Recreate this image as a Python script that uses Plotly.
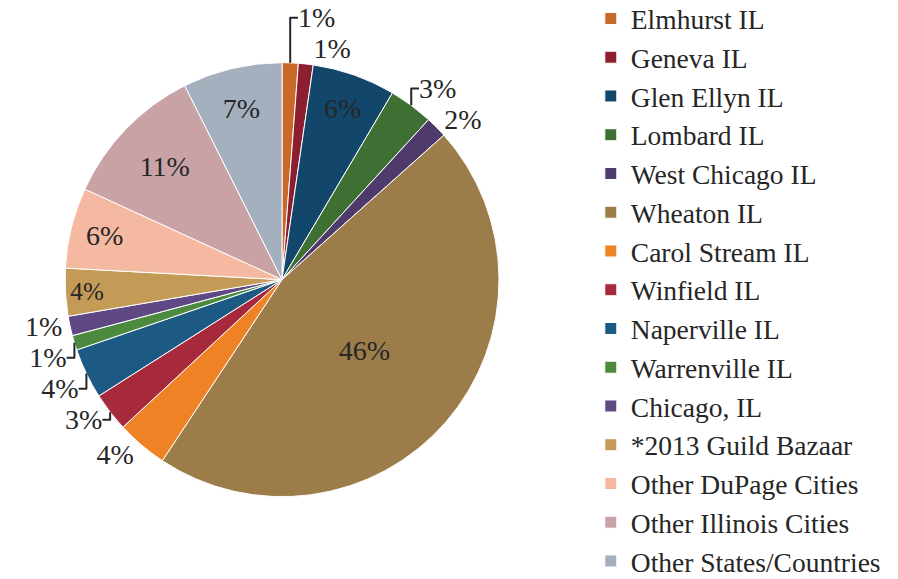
import plotly.graph_objects as go

labels = ["Elmhurst IL", "Geneva IL", "Glen Ellyn IL", "Lombard IL", "West Chicago IL",
          "Wheaton IL", "Carol Stream IL", "Winfield IL", "Naperville IL", "Warrenville IL",
          "Chicago, IL", "*2013 Guild Bazaar", "Other DuPage Cities", "Other Illinois Cities",
          "Other States/Countries"]
values = [1.2, 1.1, 6.2, 3.3, 1.6, 45.9, 3.8, 2.9, 3.75, 1.1, 1.45, 3.55, 6.0, 10.75, 7.4]
colors = ["#C8692A", "#8B1E2F", "#12476B", "#3E7034", "#4E3A6B", "#9C7D4A", "#F08226",
          "#A62A3B", "#1D5A83", "#4B8A3F", "#5E4985", "#C49A57", "#F5B8A0", "#C9A2A6", "#A5B0BE"]
text_pos = ["outside", "outside", "inside", "outside", "outside", "inside", "outside",
            "outside", "outside", "outside", "outside", "inside", "inside", "inside", "inside"]

fig = go.Figure(go.Pie(
    labels=labels,
    values=values,
    sort=False,
    direction="clockwise",
    rotation=0,
    marker=dict(colors=colors, line=dict(color="white", width=1)),
    texttemplate="%{percent:.0%}",
    textposition=text_pos,
    insidetextorientation="horizontal",
    textfont=dict(family="Liberation Serif", size=28, color="#262626"),
    domain=dict(x=[0.0635, 0.5468], y=[0.1560, 0.9056]),
    showlegend=True,
))

fig.update_layout(
    width=898, height=579,
    margin=dict(l=0, r=0, t=0, b=0, autoexpand=False),
    paper_bgcolor="white",
    font=dict(family="Liberation Serif", size=27.5, color="#262626"),
    legend=dict(x=0.649, xanchor="left", y=1.024, yanchor="top", maxheight=1000,
                font=dict(family="Liberation Serif", size=27.5, color="#262626"),
                traceorder="normal"),
)

fig.write_html("out.html")
